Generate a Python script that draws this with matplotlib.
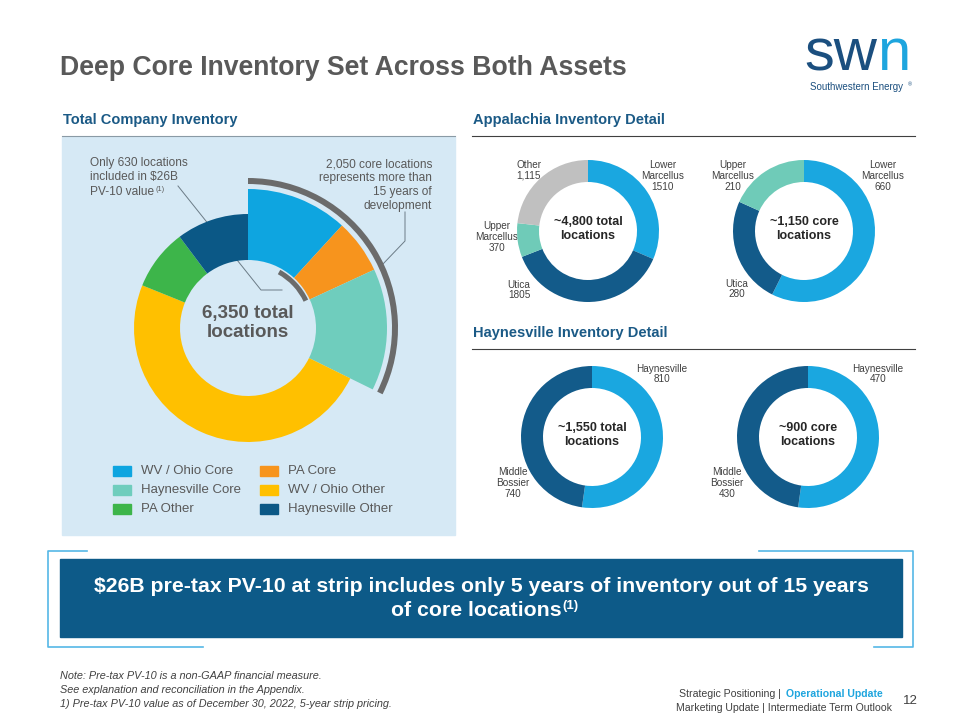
import matplotlib.pyplot as plt
from matplotlib.patches import Rectangle

plt.rcParams['font.family'] = ['Liberation Sans', 'DejaVu Sans']
narrow = ['Liberation Sans Narrow', 'Liberation Sans', 'DejaVu Sans']

# Total company inventory (locations)
total_labels = ['WV / Ohio Core', 'PA Core', 'Haynesville Core',
                'WV / Ohio Other', 'PA Other', 'Haynesville Other']
total_values = [750, 400, 900, 3100, 550, 650]
total_core = [True, True, True, False, False, False]
total_colors = ['#0ea5e0', '#f7941d', '#6fcdbd', '#ffc000', '#3db54a', '#0b5886']
core_total = 2050
pv10_locations = 630

# Appalachia detail
app_total_labels = ['Lower\nMarcellus\n1510', 'Utica\n1805', 'Upper\nMarcellus\n370', 'Other\n1,115']
app_total_values = [1510, 1805, 370, 1115]
app_total_colors = ['#1aa7e0', '#135b8a', '#6fcbb8', '#c0c0c0']
app_core_labels = ['Lower\nMarcellus\n660', 'Utica\n280', 'Upper\nMarcellus\n210']
app_core_values = [660, 280, 210]
app_core_colors = ['#1aa7e0', '#135b8a', '#6fcbb8']

# Haynesville detail
hay_total_labels = ['Haynesville\n810', 'Middle\nBossier\n740']
hay_total_values = [810, 740]
hay_core_labels = ['Haynesville\n470', 'Middle\nBossier\n430']
hay_core_values = [470, 430]
hay_colors = ['#1aa7e0', '#135b8a']

W, H = 960, 720
fig = plt.figure(figsize=(9.6, 7.2), dpi=100)
bg = fig.add_axes([0, 0, 1, 1])
bg.set_xlim(0, W)
bg.set_ylim(H, 0)
bg.axis('off')
renderer = fig.canvas.get_renderer()

grey_txt = '#595959'
navy = '#1b5a86'


def px_axes(cx, cy, half):
    ax = fig.add_axes([(cx - half) / W, 1 - (cy + half) / H, 2 * half / W, 2 * half / H])
    return ax


def finish(ax, half):
    ax.set_xlim(-half / 100, half / 100)
    ax.set_ylim(-half / 100, half / 100)
    ax.axis('off')


def superscript_after(t, sup, size, color, dy):
    # put a small "(1)" right after the end of text t
    bb = t.get_window_extent(renderer)
    x_end = bb.x1
    y_top = H - bb.y1
    bg.text(x_end + 1, y_top + dy, sup, fontsize=size, color=color, ha='left', va='top',
            fontweight=t.get_fontweight(), family=t.get_fontfamily(), zorder=t.get_zorder())


# title and logo
bg.text(60, 68, 'Deep Core Inventory Set Across Both Assets', fontsize=19.2,
        fontweight='bold', color=grey_txt, va='center')
bg.text(877, 55, 'sw', fontsize=43, color='#1b4f7f', ha='right', va='center')
bg.text(877, 55, 'n', fontsize=43, color='#1ea5de', ha='left', va='center')
bg.text(857, 87, 'Southwestern Energy', fontsize=7.0, color='#1b4f7f', ha='center', va='center')
bg.text(908, 85, '®', fontsize=4, color='#1b4f7f', ha='left', va='center')

# section headers
bg.text(63, 120, 'Total Company Inventory', fontsize=10.5, fontweight='bold', color=navy, va='center')
bg.text(473, 120, 'Appalachia Inventory Detail', fontsize=10.5, fontweight='bold', color=navy, va='center')
bg.text(473, 333, 'Haynesville Inventory Detail', fontsize=10.5, fontweight='bold', color=navy, va='center')
bg.plot([62, 455], [136, 136], color='#8a9aa5', lw=0.8)
bg.plot([472, 915], [136, 136], color='#404040', lw=0.8)
bg.plot([472, 915], [349, 349], color='#404040', lw=0.8)

# panel
bg.add_patch(Rectangle((62, 137), 393, 398, color='#d6e9f5', zorder=0))

# main donut
cx, cy, half = 248, 328, 165
ax = px_axes(cx, cy, half)
r_in = 0.68
core_cols = [c if k else 'none' for c, k in zip(total_colors, total_core)]
other_cols = [c if not k else 'none' for c, k in zip(total_colors, total_core)]
ax.pie(total_values, colors=core_cols, startangle=90, counterclock=False, radius=1.39,
       wedgeprops=dict(width=1.39 - r_in, edgecolor='none'))
ax.pie(total_values, colors=other_cols, startangle=90, counterclock=False, radius=1.14,
       wedgeprops=dict(width=1.14 - r_in, edgecolor='none'))
ax.pie([core_total, sum(total_values) - core_total], colors=['#6b6b6b', 'none'], startangle=90,
       counterclock=False, radius=1.50, wedgeprops=dict(width=0.06, edgecolor='none'))
ax.pie([pv10_locations, sum(total_values) - pv10_locations], colors=['#6b6b6b', 'none'],
       startangle=90 - 29, counterclock=False, radius=0.665,
       wedgeprops=dict(width=0.05, edgecolor='none'))
finish(ax, half)

bg.text(248, 323, '6,350 total\nlocations', fontsize=13.5, fontweight='bold', color=grey_txt,
        ha='center', va='center', linespacing=1.1, zorder=5)
bg.text(90, 170, 'Only 630 locations\nincluded in $26B', fontsize=8.6,
        color=grey_txt, ha='left', va='center', linespacing=1.2)
t = bg.text(90, 192, 'PV-10 value', fontsize=8.6, color=grey_txt, ha='left', va='center')
superscript_after(t, '(1)', 5.2, grey_txt, 0)
bg.text(432, 185, '2,050 core locations\nrepresents more than\n15 years of\ndevelopment', fontsize=8.6,
        color=grey_txt, ha='right', va='center', linespacing=1.2)
bg.plot([178, 261, 282], [186, 290, 290], color='#6b7b86', lw=0.7, zorder=6)
bg.plot([405, 405, 382], [212, 241, 265], color='#6b7b86', lw=0.7, zorder=6)

# legend
leg_pos = [(113, 471), (260, 471), (113, 490), (260, 490), (113, 509), (260, 509)]
for (lx, ly), i in zip(leg_pos, range(len(total_labels))):
    bg.add_patch(Rectangle((lx, ly - 5), 18, 10, color=total_colors[i], zorder=3))
    bg.text(lx + 28, ly, total_labels[i], fontsize=9.5, color=grey_txt, va='center')


def small_donut(cx, cy, values, colors, center_text, labels, label_pos):
    half = 80
    ax = px_axes(cx, cy, half)
    ax.pie(values, colors=colors, startangle=90, counterclock=False, radius=0.71,
           wedgeprops=dict(width=0.22, edgecolor='none'))
    finish(ax, half)
    bg.text(cx, cy - 2, center_text, fontsize=9, fontweight='bold', color='#262626',
            ha='center', va='center', linespacing=1.15)
    for lab, (lx, ly) in zip(labels, label_pos):
        bg.text(lx, ly, lab, fontsize=7.2, color='#404040', ha='center', va='center',
                linespacing=1.1)


small_donut(588, 231, app_total_values, app_total_colors, '~4,800 total\nlocations', app_total_labels,
            [(663, 176), (519, 290), (497, 237), (529, 170)])
small_donut(804, 231, app_core_values, app_core_colors, '~1,150 core\nlocations', app_core_labels,
            [(883, 176), (737, 289), (733, 176)])
small_donut(592, 437, hay_total_values, hay_colors, '~1,550 total\nlocations', hay_total_labels,
            [(662, 374), (513, 483)])
small_donut(808, 437, hay_core_values, hay_colors, '~900 core\nlocations', hay_core_labels,
            [(878, 374), (727, 483)])

# banner
bc = '#55b8e6'
bg.plot([87, 48, 48, 203], [551, 551, 647, 647], color=bc, lw=1.2)
bg.plot([759, 913, 913, 874], [551, 551, 647, 647], color=bc, lw=1.2)
bg.add_patch(Rectangle((60, 559), 842, 78, color='#0d5a88', zorder=2))
bg.text(481, 587, '$26B pre-tax PV-10 at strip includes only 5 years of inventory out of 15 years',
        fontsize=15.3, fontweight='bold', color='white', ha='center', va='center', zorder=3,
        family=narrow)
t = bg.text(476, 611, 'of core locations', fontsize=15.3, fontweight='bold', color='white',
            ha='center', va='center', zorder=3, family=narrow)
superscript_after(t, '(1)', 9.5, 'white', -1)

# notes and footer
notes = ['Note: Pre-tax PV-10 is a non-GAAP financial measure.',
         'See explanation and reconciliation in the Appendix.',
         '1) Pre-tax PV-10 value as of December 30, 2022, 5-year strip pricing.']
for k, n in enumerate(notes):
    bg.text(60, 676 + 14 * k, n, fontsize=7.8, style='italic', color='#404040', va='center',
            family=narrow)
bg.text(784, 694, 'Strategic Positioning | ', fontsize=7.6, color='#404040', ha='right', va='center',
        family=narrow)
bg.text(786, 694, 'Operational Update', fontsize=7.6, fontweight='bold', color='#1ea5de', ha='left',
        va='center', family=narrow)
bg.text(892, 708, 'Marketing Update | Intermediate Term Outlook', fontsize=7.6, color='#404040',
        ha='right', va='center', family=narrow)
bg.text(903, 701, '12', fontsize=9.5, color='#404040', ha='left', va='center')

fig.savefig('out.png', dpi=100)
